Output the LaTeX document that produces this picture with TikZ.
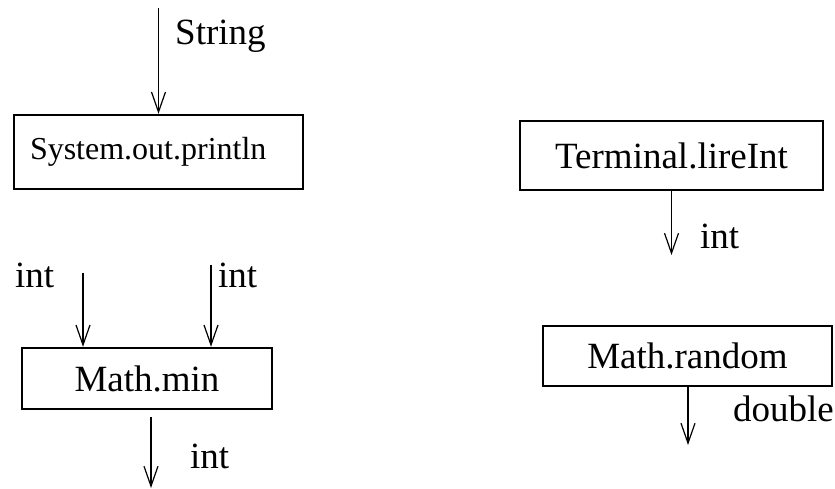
\documentclass[tikz,border=0pt]{standalone}
\usepackage{fontspec}
\setmainfont{Liberation Serif}
\usetikzlibrary{arrows.meta}
\begin{document}
\begin{tikzpicture}[x=1pt,y=-1pt,
  fbox/.style={draw,line width=2.4pt,inner sep=0pt,font=\fontsize{37}{44}\selectfont},
  lbl/.style={anchor=base west,inner sep=0pt,font=\fontsize{37}{44}\selectfont},
  arr/.style={line width=1.8pt,-{Straight Barb[length=20pt,width=14pt,line width=1.2pt]}}]
\useasboundingbox (0,0) rectangle (835,489);
% System.out.println
\node[fbox,minimum height=74pt,text width=257pt,inner xsep=16pt,align=left,
  font=\fontsize{32}{38}\selectfont] (sop) at (158.5,152) {System.out.println};
\coordinate (sopin) at (158.5,8);
\draw[arr] (sopin) -- (sop.north);
\node[lbl] (lstr) at (175,45) {String};
% Terminal.lireInt
\node[fbox,minimum width=303pt,minimum height=69pt] (tli) at (671.5,155.5) {Terminal.lireInt};
\coordinate (tliout) at (671.5,255);
\draw[arr] (tli.south) -- (tliout);
\node[lbl] (ltli) at (700,248) {int};
% Math.min
\node[fbox,minimum width=250pt,minimum height=61pt] (mmin) at (147,378.5) {Math.min};
\coordinate (minA) at (83,273);
\coordinate (minB) at (211,265);
\draw[arr] (minA) -- (minA |- mmin.north);
\draw[arr] (minB) -- (minB |- mmin.north);
\node[lbl] (lminA) at (15,287) {int};
\node[lbl] (lminB) at (218,287) {int};
\coordinate (minO1) at (151,417);
\coordinate (minO2) at (151,488);
\draw[arr] (minO1) -- (minO2);
\node[lbl] (lminO) at (190,468) {int};
% Math.random
\node[fbox,minimum width=289pt,minimum height=60pt] (mr) at (687.5,356) {Math.random};
\coordinate (mrout) at (688,445);
\draw[arr] (mr.south -| mrout) -- (mrout);
\node[lbl] (lmr) at (733,421) {double};
\end{tikzpicture}
\end{document}
